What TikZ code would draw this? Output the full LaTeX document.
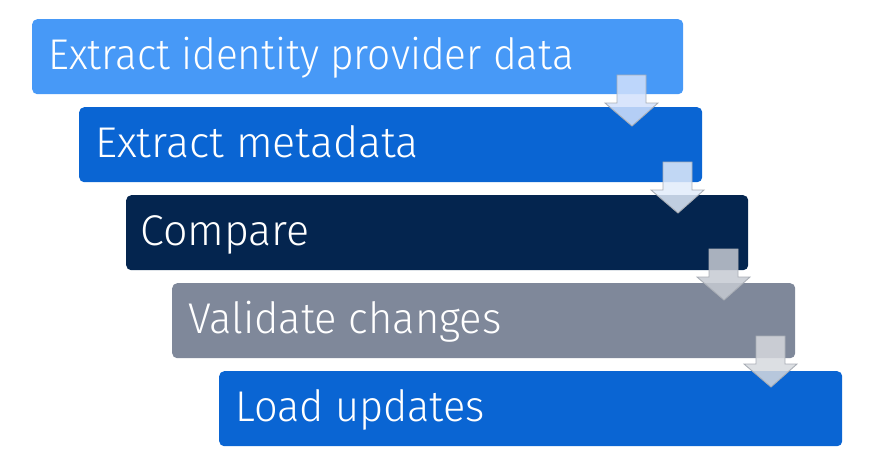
\documentclass[tikz,border=0pt]{standalone}
\usepackage{fontspec}
\setmainfont{Fira Sans Light}
\definecolor{bA}{HTML}{4799F7}
\definecolor{bB}{HTML}{0A65D3}
\definecolor{bC}{HTML}{04254F}
\definecolor{bD}{HTML}{7F889A}
\definecolor{aA}{HTML}{D2E1FC}
\definecolor{aB}{HTML}{E2ECFA}
\definecolor{aC}{HTML}{C6CAD2}
\definecolor{aD}{HTML}{D6D9DE}
\definecolor{aline}{HTML}{A9AEB6}
\tikzset{
  stepbox/.style={rectangle, rounded corners=5pt, inner sep=0pt, anchor=north west},
  steplabel/.style={anchor=base west, text=white, font=\fontsize{43}{43}\selectfont, inner sep=0pt},
  downarrow/.style={draw=aline, line width=0.9pt, fill opacity=0.85}
}
\newcommand{\dnarrow}[2]{%
  \path[downarrow, fill=#2] (#1) ++(-15,-51) -- ++(29,0) -- ++(0,28) -- ++(12,0) -- ++(-26,23) -- ++(-27,-23) -- ++(12,0) -- cycle;}
\begin{document}
\begin{tikzpicture}[x=1pt,y=-1pt]
\useasboundingbox (0,0) rectangle (883,464);
\node[stepbox, fill=bA, minimum width=651pt, minimum height=75pt] (s1) at (32,19) {};
\node[stepbox, fill=bB, minimum width=623pt, minimum height=75pt] (s2) at (79,107) {};
\node[stepbox, fill=bC, minimum width=622pt, minimum height=75pt] (s3) at (126,195) {};
\node[stepbox, fill=bD, minimum width=623pt, minimum height=75pt] (s4) at (172,283) {};
\node[stepbox, fill=bB, minimum width=623pt, minimum height=75pt] (s5) at (219,371) {};
\node[steplabel] (t1) at ([xshift=16pt,yshift=-50pt]s1.north west) {\scalebox{0.945}[1]{Extract identity provider data}};
\node[steplabel] (t2) at ([xshift=16pt,yshift=-50pt]s2.north west) {Extract metadata};
\node[steplabel] (t3) at ([xshift=14pt,yshift=-50pt]s3.north west) {Compare};
\node[steplabel] (t4) at ([xshift=16pt,yshift=-50pt]s4.north west) {\scalebox{0.97}[1]{Validate changes}};
\node[steplabel] (t5) at ([xshift=16pt,yshift=-50pt]s5.north west) {\scalebox{0.965}[1]{Load updates}};
\coordinate (p1) at (632,126);
\coordinate (p2) at (678,213);
\coordinate (p3) at (724,300);
\coordinate (p4) at (771,387);
\dnarrow{p1}{aA}
\dnarrow{p2}{aB}
\dnarrow{p3}{aC}
\dnarrow{p4}{aD}
\end{tikzpicture}
\end{document}
